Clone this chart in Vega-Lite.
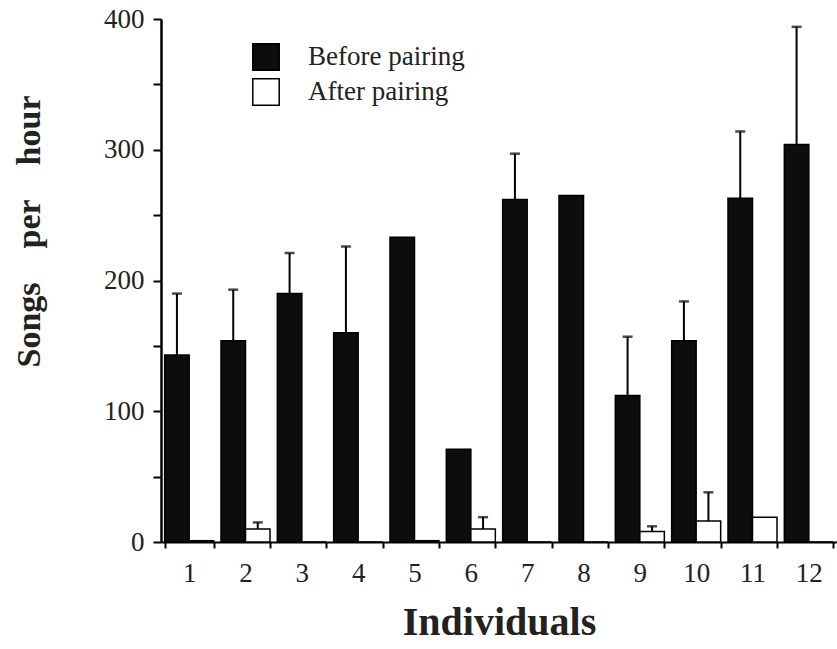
{
  "$schema": "https://vega.github.io/schema/vega-lite/v6.json",
  "width": 837,
  "height": 649,
  "autosize": {"type": "fit", "contains": "padding"},
  "padding": {"left": 11, "top": 5, "right": 0, "bottom": 7},
  "background": "white",
  "config": {
    "view": {"stroke": null},
    "font": "Liberation Serif",
    "axis": {"domainColor": "black", "domainWidth": 2, "tickColor": "black", "tickWidth": 2, "labelColor": "#222", "titleColor": "#222", "grid": false, "labelFont": "Liberation Serif", "titleFont": "Liberation Serif"},
    "axisY": {"domain": true, "domainColor": "black", "domainWidth": 2.5, "ticks": true, "tickColor": "black", "zindex": 2}
  },
  "data": {
    "values": [
      {"ind": "1", "period": "Before pairing", "songs": 143, "err": 190},
      {"ind": "1", "period": "After pairing", "songs": 1, "err": null},
      {"ind": "2", "period": "Before pairing", "songs": 154, "err": 193},
      {"ind": "2", "period": "After pairing", "songs": 10, "err": 15},
      {"ind": "3", "period": "Before pairing", "songs": 190, "err": 221},
      {"ind": "3", "period": "After pairing", "songs": 0, "err": null},
      {"ind": "4", "period": "Before pairing", "songs": 160, "err": 226},
      {"ind": "4", "period": "After pairing", "songs": 0, "err": null},
      {"ind": "5", "period": "Before pairing", "songs": 233, "err": null},
      {"ind": "5", "period": "After pairing", "songs": 1, "err": null},
      {"ind": "6", "period": "Before pairing", "songs": 71, "err": null},
      {"ind": "6", "period": "After pairing", "songs": 10, "err": 19},
      {"ind": "7", "period": "Before pairing", "songs": 262, "err": 297},
      {"ind": "7", "period": "After pairing", "songs": 0, "err": null},
      {"ind": "8", "period": "Before pairing", "songs": 265, "err": null},
      {"ind": "8", "period": "After pairing", "songs": 0, "err": null},
      {"ind": "9", "period": "Before pairing", "songs": 112, "err": 157},
      {"ind": "9", "period": "After pairing", "songs": 8, "err": 12},
      {"ind": "10", "period": "Before pairing", "songs": 154, "err": 184},
      {"ind": "10", "period": "After pairing", "songs": 16, "err": 38},
      {"ind": "11", "period": "Before pairing", "songs": 263, "err": 314},
      {"ind": "11", "period": "After pairing", "songs": 19, "err": null},
      {"ind": "12", "period": "Before pairing", "songs": 304, "err": 394},
      {"ind": "12", "period": "After pairing", "songs": 0, "err": null}
    ]
  },
  "encoding": {
    "x": {
      "field": "ind", "type": "nominal", "sort": null,
      "scale": {"paddingInner": 0.13, "paddingOuter": 0.065},
      "axis": {
        "title": "Individuals", "labelAngle": 0, "labelFontSize": 27, "labelPadding": 12,
        "tickBand": "extent", "tickSize": 6,
        "titleFontSize": 40, "titleFontWeight": "bold", "titlePadding": 16
      }
    },
    "xOffset": {"field": "period", "type": "nominal", "sort": ["Before pairing", "After pairing"]},
    "y": {
      "field": "songs", "type": "quantitative",
      "scale": {"domain": [0, 400], "nice": false},
      "axis": {
        "values": [0, 50, 100, 150, 200, 250, 300, 350, 400],
        "labelExpr": "datum.value % 100 === 0 ? datum.label : ''",
        "tickSize": 8, "tickWidth": 2,
        "labelFontSize": 27, "labelPadding": 9,
        "title": "Songs\u00a0\u00a0\u00a0\u00a0per\u00a0\u00a0\u00a0\u00a0hour", "titleFontSize": 34, "titleFontWeight": "bold",
        "titleY": 212, "titleX": -122, "titleAnchor": "middle", "titleBaseline": "alphabetic", "titleAngle": -90
      }
    }
  },
  "layer": [
    {
      "mark": {"type": "bar", "stroke": "black", "strokeWidth": 1.5},
      "encoding": {
        "fill": {
          "field": "period", "type": "nominal",
          "scale": {"domain": ["Before pairing", "After pairing"], "range": ["#0d0d0d", "#ffffff"]},
          "legend": {
            "orient": "none", "legendX": 91, "legendY": 24, "title": null,
            "symbolType": "square", "symbolSize": 700, "symbolStrokeColor": "black", "symbolStrokeWidth": 1.5,
            "labelFont": "Liberation Serif", "labelFontSize": 27, "labelColor": "#222", "labelOffset": 28,
            "rowPadding": 1
          }
        }
      }
    },
    {
      "transform": [{"filter": "datum.err != null"}],
      "mark": {"type": "rule", "color": "black", "strokeWidth": 2},
      "encoding": {
        "y2": {"field": "err"}
      }
    },
    {
      "transform": [{"filter": "datum.err != null"}],
      "mark": {"type": "tick", "color": "black", "thickness": 2.5, "size": 10},
      "encoding": {
        "y": {"field": "err", "type": "quantitative"}
      }
    }
  ]
}
